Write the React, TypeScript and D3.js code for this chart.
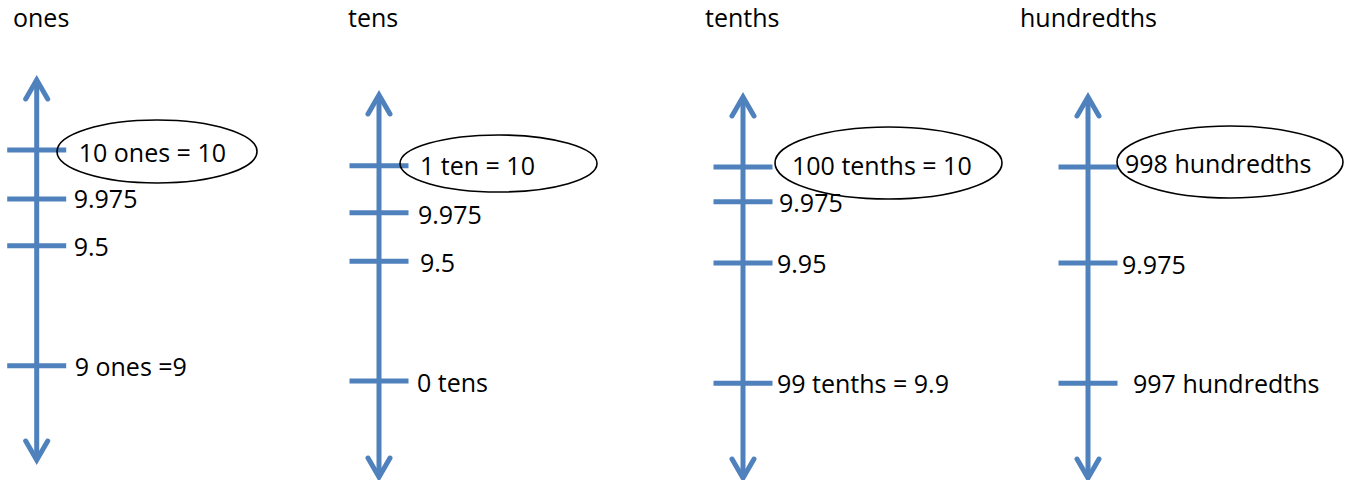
import React from "react";
import * as d3 from "d3";

// ---- data ----
const titles = ["ones", "tens", "tenths", "hundredths"];
const onesLabels = ["10 ones = 10", "9.975", "9.5", "9 ones =9"];
const tensLabels = ["1 ten = 10", "9.975", "9.5", "0 tens"];
const tenthsLabels = ["100 tenths = 10", "9.975", "9.95", "99 tenths = 9.9"];
const hundredthsLabels = ["998 hundredths", "9.975", "997 hundredths"];
// relative tick positions along each arrow (0 = top tip, 1 = bottom tip)
const onesPos = [0.184, 0.313, 0.436, 0.752];
const tensPos = [0.185, 0.308, 0.435, 0.749];
const tenthsPos = [0.184, 0.275, 0.436, 0.751];
const hundredthsPos = [0.184, 0.436, 0.751];
const circledIndex = [0, 0, 0, 0];

const BLUE = "#4f81bd";
const FONT = "'Open Sans', sans-serif";
const FS = 25;

// ---- layout (style) ----
const layout = [
  { ax: 36.7, top: 80, bottom: 460, titleX: 13, dx: [42, 37, 37, 38], dy: [12, 9, 10, 10], ell: { cx: 157, cy: 151.5, rx: 100, ry: 31.5 } },
  { ax: 379, top: 95, bottom: 477, titleX: 348, dx: [41, 39, 41, 38], dy: [9, 11, 11, 11], ell: { cx: 498.5, cy: 163.5, rx: 98.5, ry: 28.5 } },
  { ax: 743, top: 97, bottom: 478, titleX: 705, dx: [49, 36, 34, 34], dy: [8, 10, 10, 10], ell: { cx: 888.5, cy: 163, rx: 113.5, ry: 36 } },
  { ax: 1088, top: 97, bottom: 478, titleX: 1020, dx: [37, 34, 45], dy: [6, 11, 10], ell: { cx: 1230, cy: 162, rx: 113, ry: 36 } },
];

const panels = [
  { labels: onesLabels, pos: onesPos },
  { labels: tensLabels, pos: tensPos },
  { labels: tenthsLabels, pos: tenthsPos },
  { labels: hundredthsLabels, pos: hundredthsPos },
];

const HALF_TICK = 29.5;
const HEAD_W = 11;
const HEAD_D = 19;

function Panel({ i }: { i: number }) {
  const L = layout[i];
  const P = panels[i];
  const y = d3.scaleLinear().domain([0, 1]).range([L.top, L.bottom]);
  const line = d3.line<[number, number]>();
  const topHead = line([
    [L.ax - HEAD_W, L.top + HEAD_D],
    [L.ax, L.top],
    [L.ax + HEAD_W, L.top + HEAD_D],
  ]);
  const botHead = line([
    [L.ax - HEAD_W, L.bottom - HEAD_D],
    [L.ax, L.bottom],
    [L.ax + HEAD_W, L.bottom - HEAD_D],
  ]);
  return (
    <g>
      <text x={L.titleX} y={27} fontFamily={FONT} fontSize={FS} fill="#000">
        {titles[i]}
      </text>
      <line x1={L.ax} x2={L.ax} y1={L.top + 2} y2={L.bottom - 2} stroke={BLUE} strokeWidth={5} />
      <path d={topHead || ""} fill="none" stroke={BLUE} strokeWidth={5} strokeLinecap="round" strokeLinejoin="miter" />
      <path d={botHead || ""} fill="none" stroke={BLUE} strokeWidth={5} strokeLinecap="round" strokeLinejoin="miter" />
      {P.pos.map((p, k) => (
        <line key={"t" + k} x1={L.ax - HALF_TICK} x2={L.ax + HALF_TICK} y1={y(p)} y2={y(p)} stroke={BLUE} strokeWidth={5} />
      ))}
      {P.labels.map((lab, k) => (
        <text key={"l" + k} x={L.ax + L.dx[k]} y={y(P.pos[k]) + L.dy[k]} fontFamily={FONT} fontSize={FS} fill="#000">
          {lab}
        </text>
      ))}
      <ellipse cx={L.ell.cx} cy={L.ell.cy} rx={L.ell.rx} ry={L.ell.ry} fill="none" stroke="#000" strokeWidth={1.6} />
    </g>
  );
}

export default function App() {
  return (
    <svg
      width={1351}
      height={480}
      style={{ position: "absolute", left: 0, top: 0, background: "#fff" }}
    >
      <rect width={1351} height={480} fill="#fff" />
      {titles.map((_, i) => (
        <Panel key={i} i={i} />
      ))}
    </svg>
  );
}
